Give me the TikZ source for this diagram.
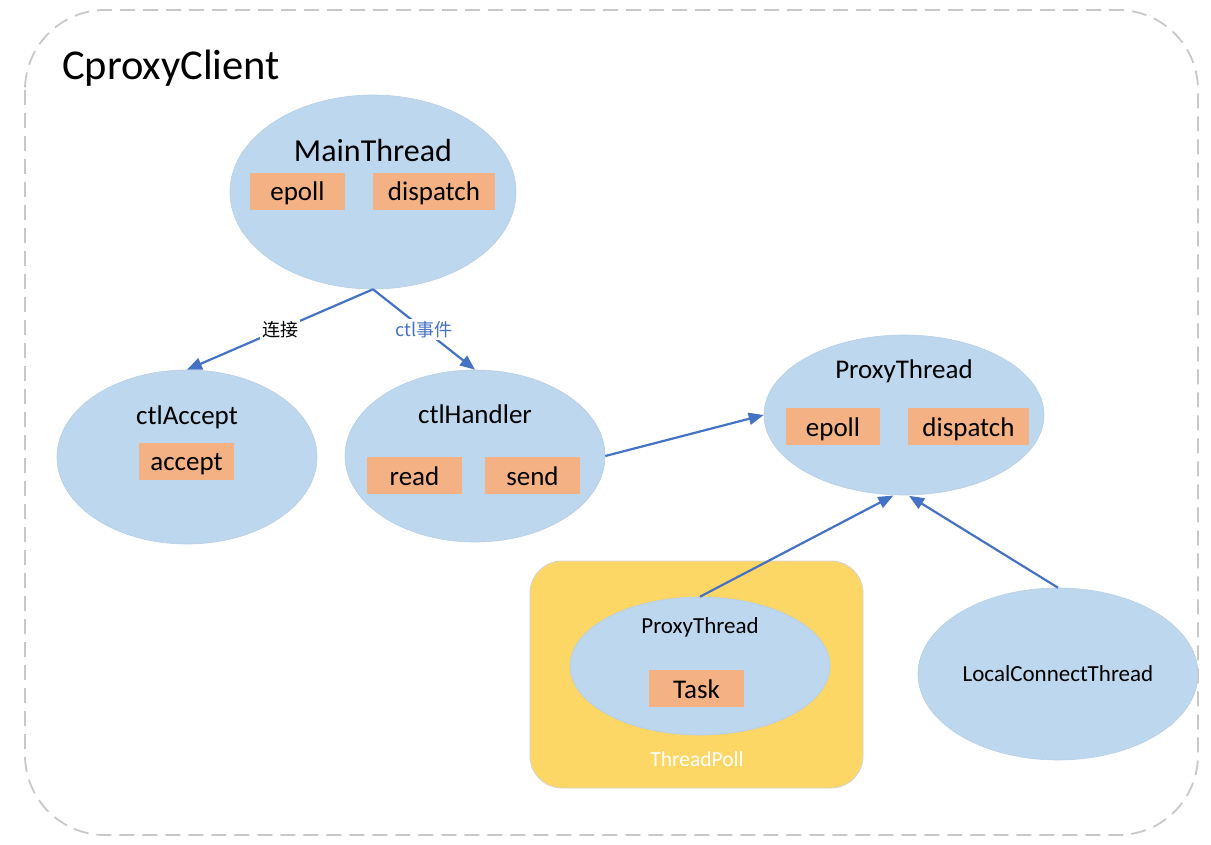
\documentclass[tikz,border=0pt]{standalone}
\usepackage{fontspec}
\setmainfont{Carlito}
\newfontfamily\cjk{Noto Sans CJK SC}
\usetikzlibrary{shapes.geometric,arrows.meta}
\definecolor{ellfill}{RGB}{189,215,238}
\definecolor{boxfill}{RGB}{244,177,131}
\definecolor{arrowblue}{RGB}{68,114,196}
\definecolor{poolfill}{RGB}{253,215,102}
\definecolor{dashgray}{RGB}{200,200,200}
\tikzset{
  ell/.style={ellipse, fill=ellfill, draw=ellfill!90!gray, line width=0.6pt, inner sep=0pt},
  box/.style={rectangle, fill=boxfill, minimum width=95pt, minimum height=37pt, inner sep=0pt, text height=21pt, text depth=2pt, font=\fontsize{27}{30}\selectfont},
  bigtxt/.style={font=\fontsize{27}{30}\selectfont, inner sep=0pt},
  smalltxt/.style={font=\fontsize{23}{26}\selectfont, inner sep=0pt},
  conn/.style={draw=arrowblue, line width=2.2pt, -{Triangle[length=15pt,width=12pt]}},
  elabel/.style={font=\cjk\fontsize{18}{20}\selectfont, fill=white, inner sep=2pt}
}
\begin{document}
\begin{tikzpicture}[x=1pt,y=-1pt]
\useasboundingbox (0,0) rectangle (1211,845);
% outer frame
\draw[dashgray, line width=1.8pt, dash pattern=on 15pt off 8pt, rounded corners=80pt] (25,10) rectangle (1198,835);
\node[anchor=west, font=\fontsize{42.5}{45}\selectfont, inner sep=0pt] (title) at (62,68) {CproxyClient};

% MainThread
\node[ell, minimum width=286pt, minimum height=194pt] (main) at (373,192) {};
\node[font=\fontsize{32}{34}\selectfont, inner sep=0pt] (mainl) at (373,151) {MainThread};
\node[box] (mepoll) at (297.5,191.5) {epoll};
\node[box, minimum width=122pt] (mdisp) at (434,191.5) {dispatch};

% ctlAccept
\node[ell, minimum width=260pt, minimum height=174pt] (acc) at (187,457) {};
\node[bigtxt] (accl) at (187,417) {ctlAccept};
\node[box] (accb) at (186.5,461) {accept};

% ctlHandler
\node[ell, minimum width=260pt, minimum height=172pt] (hdl) at (475,456) {};
\node[bigtxt] (hdll) at (475,414) {ctlHandler};
\node[box] (hread) at (414.5,475.5) {read};
\node[box] (hsend) at (532.5,475.5) {send};

% ProxyThread top
\node[ell, minimum width=280pt, minimum height=160pt] (pt) at (904,415) {};
\node[bigtxt] (ptl) at (904,371) {ProxyThread};
\node[box, minimum width=94pt] (pepoll) at (833,426.5) {epoll};
\node[box, minimum width=121pt] (pdisp) at (968.5,426.5) {dispatch};

% ThreadPoll
\node[rectangle, rounded corners=32pt, fill=poolfill, draw=dashgray!80, line width=0.8pt, minimum width=333pt, minimum height=227pt, inner sep=0pt] (pool) at (696.5,674.5) {};
\node[smalltxt, text=white, font=\fontsize{21.5}{24}\selectfont] (pooll) at (697,759) {ThreadPoll};
\node[ell, minimum width=260pt, minimum height=138pt] (ipt) at (700,666) {};
\node[smalltxt] (iptl) at (700,627) {ProxyThread};
\node[box] (task) at (696.5,688.5) {Task};

% LocalConnectThread
\node[ell, minimum width=280pt, minimum height=172pt] (lct) at (1058,674) {};
\node[smalltxt] (lctl) at (1058,674) {LocalConnectThread};

% connectors
\draw[conn] (main.south) -- node[elabel, pos=0.5] {连接} (acc.north);
\draw[conn] (main.south) -- node[elabel, pos=0.5, text=arrowblue] {ctl事件} (hdl.north);
\draw[conn] (hdl.east) -- (pt.west);
\draw[conn, shorten >=1pt] (ipt.north) -- (pt.263);
\draw[conn, shorten >=1pt] (lct.north) -- (pt.273);
\end{tikzpicture}
\end{document}
